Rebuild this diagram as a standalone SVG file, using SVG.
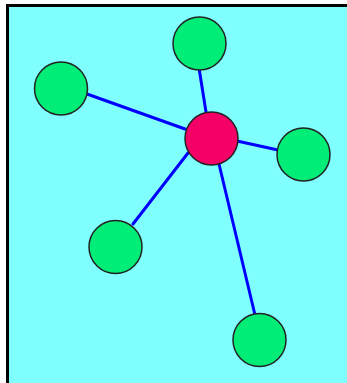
<svg xmlns="http://www.w3.org/2000/svg" width="347" height="383" viewBox="0 0 347 383">
<style>
.edge{stroke:#0000ff;stroke-width:3;stroke-linecap:round}
.leaf{fill:#00ee77;stroke:#222;stroke-width:1.5}
.hub{fill:#f50066;stroke:#222;stroke-width:1.5}
</style>
<rect x="0" y="0" width="347" height="383" fill="#ffffff"/>
<rect x="8" y="6" width="339" height="377" fill="#80ffff"/>
<path d="M7.5,383 V5.5 H347" fill="none" stroke="#000" stroke-width="3"/>
<g id="connectors">
<line class="edge" x1="199" y1="68" x2="206" y2="112"/>
<line class="edge" x1="87" y1="94" x2="185" y2="129"/>
<line class="edge" x1="237" y1="141" x2="278" y2="150"/>
<line class="edge" x1="188" y1="153" x2="133" y2="224"/>
<line class="edge" x1="219" y1="164" x2="255" y2="315"/>
</g>
<g id="n-top"><circle class="leaf" cx="199.5" cy="43.5" r="26.5"/></g>
<g id="n-left"><circle class="leaf" cx="61" cy="88.5" r="26.5"/></g>
<g id="n-right"><circle class="leaf" cx="303.5" cy="154.5" r="26.5"/></g>
<g id="n-lowleft"><circle class="leaf" cx="115.5" cy="247" r="26.5"/></g>
<g id="n-bottom"><circle class="leaf" cx="259.5" cy="340" r="26.5"/></g>
<g id="n-hub"><circle class="hub" cx="211.5" cy="138.5" r="26.5"/></g>
</svg>
